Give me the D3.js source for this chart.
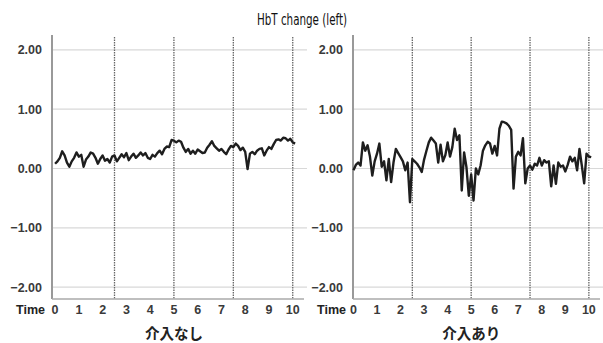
<!DOCTYPE html>
<html>
<head>
<meta charset="utf-8">
<script src="https://cdn.jsdelivr.net/npm/d3@7"></script>
<style>
  body { margin: 0; background: #fff; }
  svg { display: block; }
</style>
</head>
<body>
<div id="chart"></div>
<script>
var title = "HbT change (left)",
    panelLabels = ["介入なし", "介入あり"],
    yTicks = [2, 1, 0, -1, -2],
    xTicks = [0, 1, 2, 3, 4, 5, 6, 7, 8, 9, 10],
    vGrid = [2.5, 5, 7.5, 10],
    step = 0.1;

// HbT change, sampled every 0.1 time unit
var noIntervention = [0.08, 0.12, 0.18, 0.29, 0.22, 0.10, 0.03, 0.12, 0.18, 0.27,
  0.20, 0.23, 0.03, 0.15, 0.20, 0.27, 0.25, 0.18, 0.08, 0.16,
  0.22, 0.13, 0.16, 0.10, 0.20, 0.22, 0.12, 0.18, 0.24, 0.19,
  0.26, 0.14, 0.20, 0.25, 0.18, 0.22, 0.27, 0.22, 0.26, 0.18,
  0.16, 0.23, 0.20, 0.26, 0.30, 0.24, 0.33, 0.37, 0.36, 0.48,
  0.47, 0.44, 0.47, 0.45, 0.35, 0.28, 0.33, 0.25, 0.30, 0.25,
  0.32, 0.29, 0.26, 0.27, 0.35, 0.40, 0.46, 0.38, 0.34, 0.30,
  0.33, 0.28, 0.24, 0.32, 0.38, 0.36, 0.42, 0.38, 0.31, 0.35,
  0.28, -0.01, 0.25, 0.28, 0.24, 0.30, 0.33, 0.34, 0.22, 0.30,
  0.36, 0.33, 0.41, 0.48, 0.49, 0.47, 0.52, 0.51, 0.47, 0.50,
  0.44, 0.42];

var withIntervention = [-0.03, 0.06, 0.10, 0.05, 0.44, 0.30, 0.39, 0.20, -0.12, 0.12,
  0.25, 0.42, 0.03, 0.12, -0.20, 0.16, -0.23, 0.10, 0.33, 0.26,
  0.19, 0.12, -0.03, 0.10, -0.57, 0.16, 0.12, 0.08, 0.02, -0.06,
  0.15, 0.30, 0.44, 0.52, 0.47, 0.42, 0.10, 0.40, 0.12, 0.22,
  0.44, 0.20, 0.36, 0.67, 0.48, 0.56, -0.37, 0.27, 0.02, -0.46,
  -0.10, -0.54, 0.00, -0.10, 0.05, 0.30, 0.39, 0.45, 0.42, 0.25,
  0.38, 0.22, 0.67, 0.79, 0.78, 0.76, 0.72, 0.65, -0.34, 0.20,
  0.28, 0.22, 0.51, -0.25, 0.00, 0.05, -0.02, 0.08, 0.05, 0.18,
  0.05, 0.14, 0.10, 0.12, -0.30, 0.05, -0.26, 0.10, 0.03, 0.05,
  -0.05, 0.06, 0.20, 0.12, 0.18, -0.03, 0.33, 0.05, -0.25, 0.25,
  0.20, 0.19];

var width = 603, height = 343;

var svg = d3.select("#chart").append("svg")
    .attr("width", width)
    .attr("height", height);

svg.append("text")
    .attr("x", 302)
    .attr("y", 25)
    .attr("text-anchor", "middle")
    .attr("font-family", "'Liberation Sans Narrow', 'DejaVu Sans Condensed', sans-serif")
    .attr("font-size", 15.5)
    .attr("textLength", 90)
    .attr("lengthAdjust", "spacingAndGlyphs")
    .attr("fill", "#111")
    .text(title);

var y = d3.scaleLinear().domain([-2.2, 2.25]).range([299, 35]);

var panels = [
  { data: noIntervention, label: panelLabels[0], x0: 52, x1: 307, labelX: 42, timeEnd: 45, start: -0.13 },
  { data: withIntervention, label: panelLabels[1], x0: 353, x1: 603, labelX: 343, timeEnd: 346, start: -0.02 }
];

panels.forEach(function(p) {
  var x = d3.scaleLinear().domain([p.start, 10.6]).range([p.x0, p.x1]);

  var g = svg.append("g");

  // horizontal grid
  g.selectAll(".hgrid").data(yTicks).enter().append("line")
      .attr("x1", p.x0).attr("x2", p.x1)
      .attr("y1", function(d) { return y(d); })
      .attr("y2", function(d) { return y(d); })
      .attr("stroke", "#d8d8d8")
      .attr("stroke-width", 1.2);

  // vertical dotted grid
  g.selectAll(".vgrid").data(vGrid).enter().append("line")
      .attr("x1", function(d) { return x(d); })
      .attr("x2", function(d) { return x(d); })
      .attr("y1", 37).attr("y2", 299)
      .attr("stroke", "#666")
      .attr("stroke-width", 1.3)
      .attr("stroke-dasharray", "1.5,1");

  // axes
  g.append("line")
      .attr("x1", p.x0).attr("x2", p.x0)
      .attr("y1", 35).attr("y2", 299)
      .attr("stroke", "#999").attr("stroke-width", 2);
  g.append("line")
      .attr("x1", p.x0).attr("x2", p.x1 - 3)
      .attr("y1", 299).attr("y2", 299)
      .attr("stroke", "#aaa").attr("stroke-width", 1.5);

  // y tick labels
  g.selectAll(".ylab").data(yTicks).enter().append("text")
      .attr("x", p.labelX)
      .attr("y", function(d) { return y(d) + 4.5; })
      .attr("text-anchor", "end")
      .attr("font-family", "'Liberation Sans', Arial, sans-serif")
      .attr("font-size", 12.5)
      .attr("font-weight", "bold")
      .attr("fill", "#3a3a3a")
      .text(function(d) { return d3.format(".2f")(d).replace("-", "−"); });

  // x tick labels
  g.selectAll(".xlab").data(xTicks).enter().append("text")
      .attr("x", function(d) { return x(d); })
      .attr("y", 314)
      .attr("text-anchor", "middle")
      .attr("font-family", "'Liberation Sans', Arial, sans-serif")
      .attr("font-size", 12.5)
      .attr("font-weight", "bold")
      .attr("fill", "#3a3a3a")
      .text(function(d) { return d; });

  g.append("text")
      .attr("x", p.timeEnd)
      .attr("y", 314)
      .attr("text-anchor", "end")
      .attr("font-family", "'Liberation Sans', Arial, sans-serif")
      .attr("font-size", 12.5)
      .attr("font-weight", "bold")
      .attr("fill", "#222")
      .text("Time");

  g.append("text")
      .attr("x", x(5))
      .attr("y", 339)
      .attr("text-anchor", "middle")
      .attr("font-family", "'Noto Sans CJK JP', sans-serif")
      .attr("font-size", 14.5)
      .attr("font-weight", "bold")
      .attr("fill", "#222")
      .text(p.label);

  var line = d3.line()
      .x(function(d, i) { return x(i * step); })
      .y(function(d) { return y(d); });

  g.append("path")
      .datum(p.data)
      .attr("d", line)
      .attr("fill", "none")
      .attr("stroke", "#1e1e1e")
      .attr("stroke-width", 2.4)
      .attr("stroke-linejoin", "round");
});
</script>
</body>
</html>
